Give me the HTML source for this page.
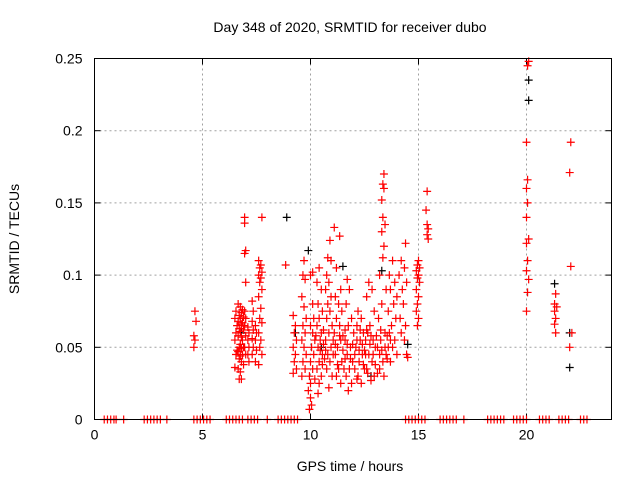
<!DOCTYPE html>
<html><head><meta charset="utf-8"><style>
html,body{margin:0;padding:0;background:#fff;}
svg{display:block;font-family:"Liberation Sans",sans-serif;}
</style></head><body>
<svg id="chart" width="640" height="480" viewBox="0 0 640 480">
<rect width="640" height="480" fill="#fff"/>
<text x="350" y="32" font-size="14" text-anchor="middle">Day 348 of 2020, SRMTID for receiver dubo</text>
<text transform="translate(19,239) rotate(-90)" font-size="14" text-anchor="middle">SRMTID / TECUs</text>
<text x="350" y="471" font-size="14" text-anchor="middle">GPS time / hours</text>
<g id="grid"></g><g id="ticks"></g><g id="black"></g><g id="red"></g>
<rect x="94.5" y="58.5" width="517" height="361" fill="none" stroke="#000"/>
</svg>
<script>
const xTicks=[0,5,10,15,20];
const yTicks=[0,0.05,0.1,0.15,0.2,0.25];
const yTickLabels=["0","0.05","0.1","0.15","0.2","0.25"];
const zeroHours=[0.45,0.6,0.75,0.9,1.0,1.35,2.3,2.45,2.6,2.75,2.9,3.05,3.35,4.6,4.75,4.9,5.05,5.2,5.35,6.1,6.25,6.4,6.55,6.7,6.85,7.1,7.25,7.4,7.55,8.0,8.5,8.65,8.8,8.95,9.1,9.25,9.4,14.4,14.55,14.7,14.85,15.0,15.15,15.3,16.0,16.15,16.3,16.45,16.6,16.75,17.1,18.2,18.35,18.5,18.65,18.8,18.95,19.4,19.55,19.7,19.85,20.0,20.6,20.75,20.9,21.05,21.5,21.65,21.8,21.95,22.5,22.65,22.8];
const blackPts=[[6.8,.06],[8.9,.14],[9.3,.06],[9.9,.117],[11.5,.106],[13.3,.103],[14.5,.052],[20.1,.235],[20.1,.221],[21.3,.094],[22.0,.036],[22.0,.06],[12.8,.03],[10.5,.05]];
const redPts=[
[4.65,.075],[4.7,.068],[4.6,.058],[4.65,.055],[4.6,.05],
[6.55,.075],[6.5,.07],[6.6,.065],[6.55,.06],[6.5,.055],[6.6,.048],[6.55,.045],[6.5,.036],
[6.65,.08],[6.7,.072],[6.65,.068],[6.7,.063],[6.65,.058],[6.7,.05],[6.65,.047],[6.7,.042],[6.65,.035],[6.7,.028],
[6.75,.078],[6.8,.074],[6.75,.07],[6.8,.066],[6.75,.061],[6.8,.057],[6.75,.052],[6.8,.049],[6.75,.044],[6.8,.04],[6.75,.033],[6.8,.028],
[6.85,.076],[6.9,.071],[6.85,.067],[6.9,.062],[6.85,.055],[6.9,.05],[6.85,.045],[6.9,.038],
[6.95,.14],[6.95,.136],[7.0,.117],[6.95,.115],[7.0,.095],[6.95,.075],[7.0,.07],[6.95,.065],[7.0,.058],[6.95,.05],[7.0,.045],
[7.1,.064],[7.15,.06],[7.1,.055],[7.15,.05],[7.1,.045],[7.15,.04],
[7.3,.082],[7.35,.075],[7.3,.068],[7.35,.062],[7.3,.056],[7.35,.05],[7.3,.045],
[7.45,.065],[7.5,.06],[7.45,.055],[7.5,.048],[7.45,.04],
[7.75,.14],[7.6,.11],[7.7,.107],[7.65,.105],[7.75,.102],[7.6,.1],[7.7,.098],[7.65,.095],[7.75,.09],[7.6,.085],[7.7,.077],[7.65,.07],[7.75,.067],[7.6,.06],[7.7,.055],[7.65,.05],[7.75,.045],[7.6,.038],
[8.85,.107],[9.2,.072],[9.3,.065],[9.25,.06],[9.35,.055],[9.2,.05],[9.3,.045],[9.25,.04],[9.35,.035],[9.2,.032],
[9.7,.11],[9.65,.1],[9.75,.097],[9.6,.085],[9.7,.078],[9.8,.07],[9.65,.065],[9.75,.06],[9.6,.055],[9.7,.05],[9.8,.045],[9.65,.04],[9.75,.035],[9.6,.03],
[9.95,.03],[10.0,.025],[9.9,.02],[10.0,.015],[10.05,.01],[9.95,.007],[10.1,.035],[10.0,.04],[10.15,.045],[10.05,.05],[10.2,.055],[10.1,.06],[10.0,.065],[10.15,.07],[10.1,.08],[10.0,.1],[10.1,.102],
[10.4,.105],[10.3,.095],[10.5,.09],[10.35,.08],[10.55,.075],[10.4,.07],[10.3,.065],[10.5,.06],[10.45,.055],[10.35,.05],[10.55,.045],[10.4,.04],[10.3,.035],[10.5,.03],[10.4,.025],[10.35,.018],
[10.9,.124],[10.8,.112],[10.95,.11],[10.75,.1],[10.85,.095],[10.7,.09],[10.95,.085],[10.8,.08],[10.9,.075],[10.75,.07],[11.0,.065],[10.85,.06],[10.7,.055],[10.95,.05],[10.8,.045],[10.9,.04],[10.75,.035],[11.0,.03],[10.85,.022],
[11.1,.133],[11.35,.127],[11.2,.105],[11.4,.09],[11.15,.085],[11.3,.08],[11.45,.075],[11.2,.07],[11.35,.065],[11.1,.06],[11.4,.055],[11.25,.05],[11.15,.045],[11.45,.04],[11.3,.035],[11.2,.03],[11.4,.025],
[11.7,.097],[11.8,.09],[11.65,.08],[11.9,.07],[11.75,.065],[12.0,.06],[11.6,.055],[11.85,.05],[11.7,.045],[11.95,.04],[11.8,.035],[11.65,.03],[11.9,.025],[11.75,.02],
[12.2,.075],[12.35,.07],[12.15,.065],[12.45,.06],[12.3,.055],[12.1,.05],[12.4,.045],[12.25,.04],[12.5,.035],[12.2,.03],[12.35,.025],
[12.7,.095],[12.85,.09],[12.6,.085],[12.95,.075],[12.75,.065],[12.65,.06],[12.9,.055],[13.0,.05],[12.7,.045],[12.85,.04],[12.6,.035],[12.95,.03],[12.8,.027],
[13.4,.17],[13.35,.163],[13.4,.16],[13.3,.152],[13.35,.14],[13.45,.135],[13.3,.13],[13.4,.12],[13.35,.112],[13.2,.1],[13.5,.09],[13.3,.08],[13.15,.07],[13.45,.06],[13.25,.055],[13.1,.05],[13.5,.045],[13.35,.04],[13.2,.035],[13.4,.03],
[13.8,.11],[13.65,.1],[13.9,.095],[13.7,.09],[14.0,.085],[13.85,.08],[13.6,.075],[13.95,.07],[13.75,.065],[13.65,.06],[13.9,.055],[13.8,.05],[14.0,.045],[13.7,.04],
[14.4,.122],[14.2,.11],[14.35,.105],[14.1,.1],[14.45,.095],[14.25,.09],[14.3,.08],[14.15,.07],[14.4,.065],[14.2,.06],[14.35,.055],[14.45,.045],[14.5,.043],
[15.0,.11],[14.95,.107],[15.05,.105],[14.9,.103],[15.0,.1],[14.95,.098],[15.05,.095],[14.9,.09],[15.0,.085],[14.95,.08],[14.9,.075],[15.0,.07],[14.95,.065],
[15.4,.158],[15.35,.145],[15.4,.135],[15.45,.132],[15.4,.128],[15.45,.125],
[20.1,.248],[20.05,.245],[20.0,.192],[20.05,.166],[20.0,.16],[20.05,.15],[20.0,.14],[20.1,.125],[20.0,.122],[20.05,.11],[20.0,.103],[20.1,.097],[20.05,.088],[20.0,.075],
[21.35,.087],[21.3,.08],[21.4,.078],[21.3,.075],[21.35,.07],[21.3,.066],[21.35,.06],
[22.05,.192],[22.0,.171],[22.05,.106],[22.1,.06],[22.0,.05],
[10.25,.058],[10.6,.052],[10.65,.042],[10.2,.028],[10.45,.048],[10.6,.062],[11.05,.055],[11.05,.045],[11.25,.038],[11.5,.058],[11.5,.048],[11.55,.035],
[11.6,.062],[11.7,.052],[11.85,.042],[11.95,.052],[12.05,.045],[12.05,.035],[12.15,.055],[12.25,.048],[12.3,.062],[12.4,.052],[12.45,.038],[12.55,.055],
[12.55,.045],[12.6,.062],[12.75,.052],[12.8,.058],[12.9,.045],[13.0,.038],[13.05,.058],[13.1,.032],[13.2,.045],[13.25,.062],[13.3,.048],[13.45,.05],
[13.55,.058],[13.6,.05],[13.7,.055],[13.55,.042],[12.15,.028],[12.65,.032],[11.6,.042],[11.15,.052],[10.7,.048],[10.55,.038],[11.35,.058],[12.5,.048]];
const L=94.5,R=611.5,T=58.5,B=419.5;
function xs(h){return L+h*21.6;}
function ys(v){return B-v*(B-T)/0.25;}
const NS="http://www.w3.org/2000/svg";
function mk(tag,attrs,parent){const e=document.createElementNS(NS,tag);for(const k in attrs)e.setAttribute(k,attrs[k]);parent.appendChild(e);return e;}
const grid=document.getElementById('grid'),ticks=document.getElementById('ticks');
xTicks.forEach(t=>{const x=xs(t);
 if(t>0){const g=mk('line',{x1:x,x2:x,y1:T,y2:B,stroke:'#a0a0a0','stroke-dasharray':'2,3'},grid);
 
 }
 mk('line',{x1:x,x2:x,y1:B,y2:B-6,stroke:'#000'},ticks);
 mk('line',{x1:x,x2:x,y1:T,y2:T+6,stroke:'#000'},ticks);
 const tx=mk('text',{x:x,y:B+20,'font-size':14,'text-anchor':'middle'},ticks);tx.textContent=t;
 
 
});
yTicks.forEach((t,i)=>{const y=ys(t);
 if(t>0&&t<0.25){const g=mk('line',{x1:L,x2:R,y1:y,y2:y,stroke:'#a0a0a0','stroke-dasharray':'2,3'},grid);
 
 }
 mk('line',{x1:L,x2:L+6,y1:y,y2:y,stroke:'#000'},ticks);
 mk('line',{x1:R,x2:R-6,y1:y,y2:y,stroke:'#000'},ticks);
 const tx=mk('text',{x:L-12,y:y+5,'font-size':14,'text-anchor':'end'},ticks);tx.textContent=yTickLabels[i];
 
 
});
function plus(g,h,v,col,name){const x=xs(h),y=ys(v);
 const p=mk('path',{d:`M${x-4},${y}H${x+4}M${x},${y-4}V${y+4}`,stroke:col,'stroke-width':1.2,fill:'none'},g);
 
 }
const bg=document.getElementById('black'),rg=document.getElementById('red');
blackPts.forEach(p=>plus(bg,p[0],p[1],'#000','black-point'));
redPts.forEach(p=>plus(rg,p[0],p[1],'#f00','red-point'));
zeroHours.forEach(h=>plus(rg,h,0,'#f00','zero-point'));
</script>
</body></html>
